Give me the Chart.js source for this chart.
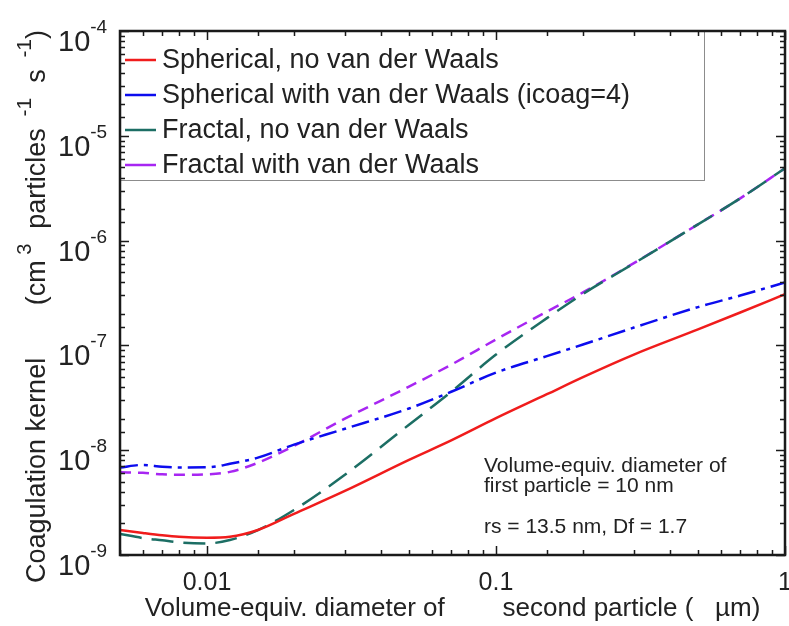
<!DOCTYPE html>
<html>
<head>
<meta charset="utf-8">
<script src="https://cdn.jsdelivr.net/npm/chart.js@4.4.1/dist/chart.umd.min.js"></script>
<style>
  html, body { margin: 0; padding: 0; background: #fff; }
  canvas { display: block; }
</style>
</head>
<body>
<canvas id="grafico-coagulacao" width="789" height="626"></canvas>
<script>
// diametro da segunda particula (um)
const diametros = [0.005, 0.006, 0.007, 0.008, 0.01, 0.012, 0.015, 0.02, 0.03, 0.05, 0.07, 0.1, 0.15, 0.2, 0.3, 0.5, 0.7, 1];

// kernel de coagulacao (cm3 particulas-1 s-1)
const esfericoSemVdw = [1.73e-9, 1.62e-9, 1.54e-9, 1.49e-9, 1.46e-9, 1.49e-9, 1.73e-9, 2.47e-9, 4.09e-9, 8.09e-9, 1.24e-8, 2.02e-8, 3.42e-8, 4.98e-8, 8.17e-8, 1.42e-7, 2.06e-7, 3.08e-7];
const esfericoComVdw = [6.84e-9, 7.24e-9, 6.95e-9, 6.84e-9, 6.86e-9, 7.41e-9, 8.5e-9, 1.13e-8, 1.6e-8, 2.5e-8, 3.61e-8, 5.5e-8, 7.9e-8, 1.02e-7, 1.48e-7, 2.32e-7, 2.99e-7, 3.98e-7];
const fractalSemVdw = [1.59e-9, 1.45e-9, 1.38e-9, 1.32e-9, 1.29e-9, 1.39e-9, 1.73e-9, 2.69e-9, 5.82e-9, 1.75e-8, 3.61e-8, 8.17e-8, 1.82e-7, 3.1e-7, 6.05e-7, 1.43e-6, 2.53e-6, 4.9e-6];
const fractalComVdw = [6.15e-9, 6.08e-9, 5.88e-9, 5.82e-9, 5.88e-9, 6.21e-9, 7.58e-9, 1.1e-8, 2.0e-8, 4.04e-8, 6.55e-8, 1.14e-7, 2.1e-7, 3.2e-7, 6.1e-7, 1.43e-6, 2.53e-6, 4.9e-6];

const rotulosSeries = [
  'Spherical, no van der Waals',
  'Spherical with van der Waals (icoag=4)',
  'Fractal, no van der Waals',
  'Fractal with van der Waals',
];

const marcasX = [0.01, 0.1, 1];
const rotulosX = ['0.01', '0.1', '1'];
const marcasY = [1e-9, 1e-8, 1e-7, 1e-6, 1e-5, 1e-4];

const notas = [
  'Volume-equiv. diameter of',
  'first particle = 10 nm',
  'rs = 13.5 nm, Df = 1.7',
];

const fonte = '"Liberation Sans", Arial, Helvetica, sans-serif';
const corTexto = '#222';

function ehPotencia(v) {
  const l = Math.log10(v);
  return Math.abs(l - Math.round(l)) < 1e-6;
}

function serie(valores) {
  return diametros.map((d, i) => ({ x: d, y: valores[i] }));
}

// desenha pedacos de texto em sequencia (para os expoentes)
function desenharTrechos(ctx, trechos, x, y) {
  let cx = x;
  for (const [texto, tam, dy] of trechos) {
    ctx.font = `${tam}px ${fonte}`;
    ctx.fillText(texto, cx, y + dy);
    cx += ctx.measureText(texto).width;
  }
}

const moldura = {
  id: 'moldura',
  afterDatasetsDraw(chart) {
    const { ctx, chartArea: a } = chart;
    // legenda dentro do grafico
    ctx.save();
    ctx.fillStyle = '#fff';
    ctx.fillRect(a.left, a.top, 584, 149);
    ctx.strokeStyle = '#8c8c8c';
    ctx.lineWidth = 1;
    ctx.strokeRect(a.left + 0.5, a.top + 0.5, 584, 149);
    ctx.textBaseline = 'middle';
    ctx.font = `27px ${fonte}`;
    chart.data.datasets.forEach((ds, i) => {
      const y = a.top + 29 + i * 35;
      ctx.strokeStyle = ds.borderColor;
      ctx.lineWidth = 2.5;
      ctx.beginPath();
      ctx.moveTo(a.left + 5, y);
      ctx.lineTo(a.left + 36, y);
      ctx.stroke();
      ctx.fillStyle = corTexto;
      ctx.fillText(ds.label, a.left + 42, y + 1);
    });

    // anotacao
    ctx.textBaseline = 'alphabetic';
    ctx.font = `21px ${fonte}`;
    ctx.fillText(notas[0], 484, 472);
    ctx.fillText(notas[1], 484, 492);
    ctx.fillText(notas[2], 484, 533);
    ctx.restore();
  },
  afterDraw(chart) {
    const { ctx, chartArea: a, scales: { x, y } } = chart;
    ctx.save();
    ctx.strokeStyle = '#1a1a1a';
    ctx.lineWidth = 1.5;
    ctx.beginPath();
    x.ticks.forEach(t => {
      const px = Math.round(x.getPixelForValue(t.value)) + 0.5;
      const len = ehPotencia(t.value) ? 9 : 5;
      ctx.moveTo(px, a.bottom); ctx.lineTo(px, a.bottom - len);
      ctx.moveTo(px, a.top); ctx.lineTo(px, a.top + len);
    });
    y.ticks.forEach(t => {
      const py = Math.round(y.getPixelForValue(t.value)) + 0.5;
      const len = ehPotencia(t.value) ? 9 : 5;
      ctx.moveTo(a.left, py); ctx.lineTo(a.left + len, py);
      ctx.moveTo(a.right, py); ctx.lineTo(a.right - len, py);
    });
    ctx.stroke();

    ctx.lineWidth = 2.5;
    ctx.strokeRect(a.left, a.top, a.right - a.left, a.bottom - a.top);

    // rotulos do eixo y com expoente
    ctx.fillStyle = corTexto;
    ctx.textAlign = 'left';
    ctx.textBaseline = 'alphabetic';
    marcasY.forEach(v => {
      const py = y.getPixelForValue(v);
      const exp = Math.round(Math.log10(v));
      desenharTrechos(ctx, [['10', 29, 0], [String(exp), 19, -18]], a.left - 62, py + 20);
    });

    // titulo do eixo y
    ctx.translate(45, 583);
    ctx.rotate(-Math.PI / 2);
    desenharTrechos(ctx, [
      ['Coagulation kernel       (cm', 27, 0],
      [' 3', 20, -14],
      ['  particles', 27, 0],
      ['  -1', 21, -14],
      ['  s', 27, 0],
      ['  -1', 21, -14],
      [')', 27, 0],
    ], 0, 0);
    ctx.restore();
  },
};

const canvas = document.getElementById('grafico-coagulacao');

new Chart(canvas, {
  type: 'line',
  data: {
    datasets: [
      { label: rotulosSeries[0], data: serie(esfericoSemVdw), borderColor: '#f01c1c', borderDash: [] },
      { label: rotulosSeries[1], data: serie(esfericoComVdw), borderColor: '#0c0cee', borderDash: [18, 6, 4, 6] },
      { label: rotulosSeries[2], data: serie(fractalSemVdw), borderColor: '#1c6e64', borderDash: [22, 10] },
      { label: rotulosSeries[3], data: serie(fractalComVdw), borderColor: '#a726f2', borderDash: [11, 7] },
    ].map(ds => ({ ...ds, borderWidth: 2.5, pointRadius: 0, fill: false, cubicInterpolationMode: 'monotone' })),
  },
  options: {
    responsive: false,
    animation: false,
    devicePixelRatio: 1,
    layout: { padding: { top: 31, right: 4, bottom: 0, left: 0 } },
    plugins: { legend: { display: false }, tooltip: { enabled: false } },
    scales: {
      x: {
        type: 'logarithmic',
        min: 0.005,
        max: 1,
        grid: { display: false, drawTicks: false },
        border: { display: false },
        ticks: {
          autoSkip: false,
          maxRotation: 0,
          padding: 13,
          color: corTexto,
          font: { family: fonte, size: 25 },
          callback: (v) => {
            const i = marcasX.findIndex(m => Math.abs(Math.log10(m) - Math.log10(v)) < 1e-6);
            return i >= 0 ? rotulosX[i] : '';
          },
        },
        title: {
          display: true,
          text: 'Volume-equiv. diameter of        second particle (   \u00b5m)',
          color: corTexto,
          font: { family: fonte, size: 26 },
          padding: { top: 0, bottom: 2 },
        },
        afterFit: (s) => { s.height = 71; s.paddingLeft = 0; s.paddingRight = 0; },
      },
      y: {
        type: 'logarithmic',
        min: 1e-9,
        max: 1e-4,
        grid: { display: false, drawTicks: false },
        border: { display: false },
        ticks: { display: false },
        afterFit: (s) => { s.width = 120; s.paddingTop = 0; s.paddingBottom = 0; },
      },
    },
  },
  plugins: [moldura],
});
</script>
</body>
</html>
